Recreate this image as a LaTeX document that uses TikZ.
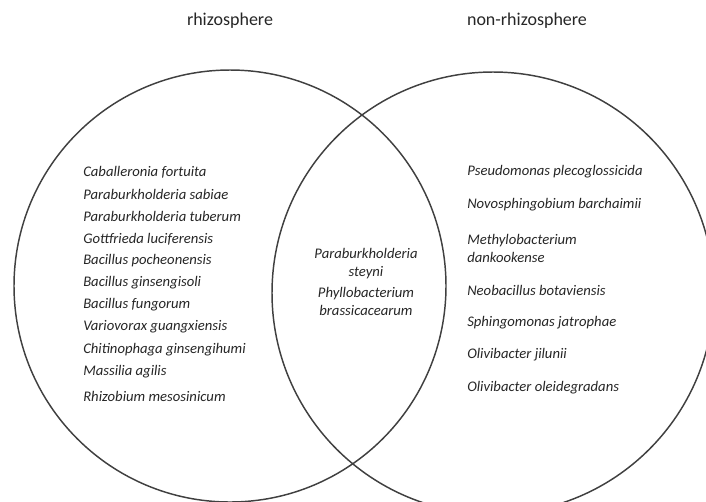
\documentclass[tikz,border=0pt]{standalone}
\usepackage{fontspec}
\setmainfont{Carlito}
\usetikzlibrary{shapes}

\begin{document}
\begin{tikzpicture}[x=0.75pt, y=-0.75pt,
  set/.style={draw=black!75, line width=1.1pt, circle, inner sep=0pt},
  species/.style={anchor=west, inner sep=0pt, font=\fontsize{11}{13.5}\selectfont\itshape, text=black!85},
  title/.style={inner sep=0pt, font=\fontsize{13.5}{16}\selectfont, text=black!85}]
\clip (0,0) rectangle (706,501);
\node[set, minimum size=324pt] (rhizo) at (230,286) {};
\node[set, minimum size=331.5pt] (nonrhizo) at (493,293) {};
\node[title] (trhizo) at (230,21) {rhizosphere};
\node[title] (tnonrhizo) at (527,21) {non-rhizosphere};
% rhizosphere only:
\node[species] (r1) at (83,172) {Caballeronia fortuita};
\node[species] (r2) at (83,194) {Paraburkholderia sabiae};
\node[species] (r3) at (83,216) {Paraburkholderia tuberum};
\node[species] (r4) at (83,239) {Gottfrieda luciferensis};
\node[species] (r5) at (83,261) {Bacillus pocheonensis};
\node[species] (r6) at (83,283) {Bacillus ginsengisoli};
\node[species] (r7) at (83,305) {Bacillus fungorum};
\node[species] (r8) at (83,327) {Variovorax guangxiensis};
\node[species] (r9) at (83,350) {Chitinophaga ginsengihumi};
\node[species] (r10) at (83,372) {Massilia agilis};
\node[species] (r11) at (83,396) {Rhizobium mesosinicum};
% shared:
\node[species, anchor=center, align=center] (s1) at (366,264) {Paraburkholderia\\steyni};
\node[species, anchor=center, align=center] (s2) at (366,301) {Phyllobacterium\\brassicacearum};
% non-rhizosphere only:
\node[species] (n1) at (467,172) {Pseudomonas plecoglossicida};
\node[species] (n2) at (467,205) {Novosphingobium barchaimii};
\node[species, align=left] (n3) at (467,248) {Methylobacterium\\dankookense};
\node[species] (n4) at (467,290) {Neobacillus botaviensis};
\node[species] (n5) at (467,323) {Sphingomonas jatrophae};
\node[species] (n6) at (467,355) {Olivibacter jilunii};
\node[species] (n7) at (467,388) {Olivibacter oleidegradans};
\end{tikzpicture}
\end{document}
